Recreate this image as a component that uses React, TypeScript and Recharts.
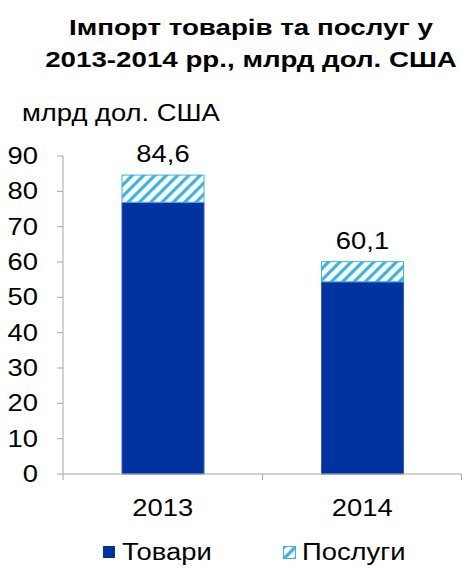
import * as R from "recharts"
import { BarChart, Bar, XAxis, YAxis, Legend, LabelList } from "recharts"

const years = ["2013", "2014"]
const goods = [76.9, 54.4]
const services = [7.7, 5.7]
const totals = [84.6, 60.1]
const yTicks = [0, 10, 20, 30, 40, 50, 60, 70, 80, 90]

const data = years.map((year, i) => ({
  year,
  goods: goods[i],
  services: services[i],
  total: totals[i],
}))

const FONT = '"Liberation Sans", Arial, sans-serif'
const NAVY = "#0033a0"
const CYAN = "#3bb3e3"
const AXIS = "#a6a6a6"
const STRETCH = 1.19

// the source text is a bit wider than Liberation Sans, so stretch it horizontally
function WideText({ x, y, anchor, dy, children }: any) {
  return (
    <text
      x={x}
      y={y}
      dy={dy}
      textAnchor={anchor}
      fontSize={23}
      fontFamily={FONT}
      fill="#000"
      transform={`translate(${x} 0) scale(${STRETCH} 1) translate(${-x} 0)`}
    >
      {children}
    </text>
  )
}

function YTick(props: any) {
  const { x, y, payload } = props
  return (
    <WideText x={x} y={y} anchor="end" dy="0.355em">
      {payload.value}
    </WideText>
  )
}

function XTick(props: any) {
  const { x, y, payload } = props
  return (
    <WideText x={x} y={y} anchor="middle" dy="0.71em">
      {payload.value}
    </WideText>
  )
}

function TotalLabel(props: any) {
  const { x, y, width, value } = props
  return (
    <WideText x={x + width / 2} y={y - 13} anchor="middle">
      {String(value).replace(".", ",")}
    </WideText>
  )
}

// Excel puts the x tick marks between categories, not under them
function BandTicks() {
  const hook: any = (R as any).usePlotArea
  const area = hook ? hook() : null
  if (!area) return null
  const step = area.width / years.length
  const edges = Array.from({ length: years.length + 1 }, (_, i) => Math.min(area.x + i * step, area.x + area.width - 0.5))
  const base = area.y + area.height
  return (
    <g>
      {edges.map((ex, i) => (
        <line key={i} x1={ex} x2={ex} y1={base} y2={base + 6} stroke={AXIS} />
      ))}
    </g>
  )
}

const wide = (origin: string) => ({
  display: "inline-block",
  transform: `scaleX(${STRETCH})`,
  transformOrigin: origin,
})

function LegendContent() {
  return (
    <div style={{ height: 30, position: "relative", fontFamily: FONT, fontSize: 23, lineHeight: "24px", color: "#000" }}>
      <div style={{ position: "absolute", left: 103, top: 2, display: "flex", alignItems: "center" }}>
        <span style={{ width: 12, height: 12, background: NAVY, display: "inline-block", marginRight: 7 }} />
        <span style={wide("left")}>Товари</span>
      </div>
      <div style={{ position: "absolute", left: 283, top: 2, display: "flex", alignItems: "center" }}>
        <svg width={13} height={13} style={{ marginRight: 6 }}>
          <rect x={0.5} y={0.5} width={12} height={12} fill="url(#hatch)" stroke={CYAN} />
        </svg>
        <span style={wide("left")}>Послуги</span>
      </div>
    </div>
  )
}

export default function App() {
  return (
    <div style={{ position: "absolute", left: 0, top: 0, width: 462, height: 568, background: "#fff", fontFamily: FONT }}>
      <div
        style={{
          position: "absolute",
          left: 40,
          width: 422,
          top: 12,
          textAlign: "center",
          fontWeight: "bold",
          fontSize: 22,
          lineHeight: "32px",
          color: "#000",
          transform: "scaleX(1.26)",
          transformOrigin: "211px 0",
        }}
      >
        Імпорт товарів та послуг у<br />2013-2014 рр., млрд дол. США
      </div>
      <div style={{ position: "absolute", left: 22, top: 100, fontSize: 23, color: "#000" }}>
        <span style={wide("left")}>млрд дол. США</span>
      </div>
      <BarChart
        width={462}
        height={568}
        data={data}
        margin={{ top: 156, right: 0, bottom: 0, left: 0 }}
        barCategoryGap={0}
      >
        <defs>
          <pattern id="hatch" patternUnits="userSpaceOnUse" width={8} height={8} patternTransform="rotate(45)">
            <rect x={0} y={0} width={8} height={8} fill="#fff" />
            <rect x={0} y={0} width={3.2} height={8} fill={CYAN} />
          </pattern>
        </defs>
        <XAxis
          dataKey="year"
          height={64}
          tickLine={false}
          tickSize={6}
          tickMargin={20}
          axisLine={{ stroke: AXIS }}
          tick={<XTick />}
        />
        <YAxis
          width={63}
          domain={[0, 90]}
          ticks={yTicks}
          interval={0}
          tickSize={6}
          tickMargin={19}
          axisLine={{ stroke: AXIS }}
          tickLine={{ stroke: AXIS }}
          tick={<YTick />}
        />
        <Legend verticalAlign="bottom" content={<LegendContent />} />
        <Bar dataKey="goods" stackId="a" fill={NAVY} stroke="#2c5fc0" strokeWidth={1} barSize={82} isAnimationActive={false} />
        <Bar dataKey="services" stackId="a" fill="url(#hatch)" stroke={CYAN} strokeWidth={1} barSize={82} isAnimationActive={false}>
          <LabelList dataKey="total" content={<TotalLabel />} />
        </Bar>
        <BandTicks />
      </BarChart>
    </div>
  )
}
